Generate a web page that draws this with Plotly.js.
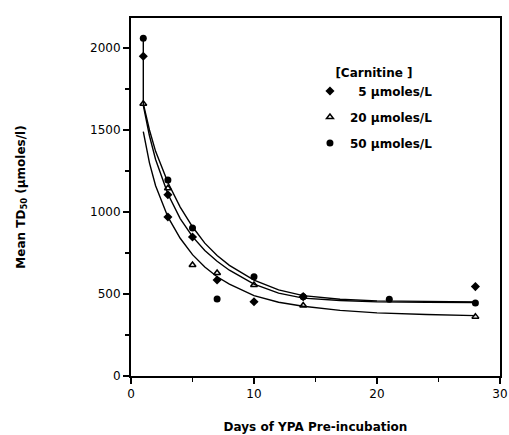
<!DOCTYPE html>
<html>
<head>
<meta charset="utf-8">
<script src="https://cdn.plot.ly/plotly-3.0.1.min.js"></script>
<style>html,body{margin:0;padding:0;background:#fff;}#chart{width:509px;height:435px;}</style>
</head>
<body>
<div id="chart"></div>
<script>
// Measured points
const daysDiamond = [1, 3, 3, 5, 7, 10, 14, 28];
const td50Diamond = [1950, 1105, 970, 848, 585, 453, 484, 545];
const daysTriangle = [1, 3, 5, 7, 10, 14, 28];
const td50Triangle = [1660, 1145, 677, 628, 555, 430, 362];
const daysCircle = [1, 3, 5, 7, 10, 14, 21, 28];
const td50Circle = [2060, 1195, 902, 470, 605, 484, 468, 445];

// Fitted curves
const curveTopDays = [1, 1, 1.5, 2, 3, 4, 5, 6, 7, 8, 10, 12, 14, 17, 20, 24, 28];
const curveTopVals = [2060, 1660, 1500, 1370, 1180, 1030, 910, 810, 735, 675, 585, 525, 490, 468, 458, 454, 452];
const curveMidDays = [1, 1.5, 2, 3, 4, 5, 6, 7, 8, 10, 12, 14, 17, 20, 24, 28];
const curveMidVals = [1650, 1465, 1320, 1110, 960, 850, 765, 700, 645, 560, 505, 475, 460, 452, 450, 448];
const curveLowDays = [1, 1.5, 2, 3, 4, 5, 6, 7, 8, 10, 12, 14, 17, 20, 24, 28];
const curveLowVals = [1490, 1300, 1160, 970, 840, 740, 665, 605, 560, 490, 450, 425, 400, 385, 375, 368];

const legendNames = ['  5 µmoles/L', '20 µmoles/L', '50 µmoles/L'];

const lineStyle = {color: '#000', width: 1.4};
const traces = [
  {x: curveTopDays, y: curveTopVals, mode: 'lines', line: lineStyle, showlegend: false, hoverinfo: 'skip'},
  {x: curveMidDays, y: curveMidVals, mode: 'lines', line: lineStyle, showlegend: false, hoverinfo: 'skip'},
  {x: curveLowDays, y: curveLowVals, mode: 'lines', line: lineStyle, showlegend: false, hoverinfo: 'skip'},
  {x: daysDiamond, y: td50Diamond, mode: 'markers', name: legendNames[0], legendgroup: 'a',
   marker: {symbol: 'diamond', size: 7, color: '#000'}},
  {x: daysTriangle, y: td50Triangle, mode: 'markers', name: legendNames[1], legendgroup: 'b',
   marker: {symbol: 'triangle-up-open', size: 6, color: '#000', line: {width: 1.5, color: '#000'}}},
  {x: daysCircle, y: td50Circle, mode: 'markers', name: legendNames[2], legendgroup: 'c',
   marker: {symbol: 'circle', size: 7, color: '#000'}}
];

const fontFam = '"DejaVu Sans", Arial, sans-serif';
const layout = {
  width: 509, height: 435,
  margin: {l: 131, r: 9, t: 18, b: 59},
  paper_bgcolor: '#fff', plot_bgcolor: '#fff',
  showlegend: true,
  legend: {
    x: 0.485, y: 0.88, xanchor: 'left', yanchor: 'top',
    bgcolor: 'rgba(0,0,0,0)',
    font: {family: fontFam, size: 12, color: '#000', weight: 'bold'},
    title: {text: '[Carnitine ]', side: 'top center', font: {family: fontFam, size: 12, color: '#000', weight: 'bold'}},
    itemwidth: 30, tracegroupgap: 7
  },
  xaxis: {
    range: [0, 30], tickvals: [0, 10, 20, 30], ticktext: ['0', '10', '20', '30'],
    ticks: 'outside', ticklen: 6, tickwidth: 1.5, tickcolor: '#000',
    minor: {tickvals: [5, 15, 25], ticks: 'outside', ticklen: 4, tickcolor: '#000', tickwidth: 1.5},
    showline: true, linecolor: '#000', linewidth: 2, mirror: true,
    showgrid: false, zeroline: false,
    tickfont: {family: fontFam, size: 12, color: '#000'},
    title: {text: 'Days of YPA Pre-incubation', font: {family: fontFam, size: 12, color: '#000', weight: 'bold'}, standoff: 22}
  },
  yaxis: {
    range: [0, 2183], tickvals: [0, 500, 1000, 1500, 2000],
    ticks: 'outside', ticklen: 6, tickwidth: 1.5, tickcolor: '#000',
    minor: {tickvals: [250, 750, 1250, 1750], ticks: 'outside', ticklen: 4, tickcolor: '#000', tickwidth: 1.5},
    showline: true, linecolor: '#000', linewidth: 2, mirror: true,
    showgrid: false, zeroline: false,
    tickfont: {family: fontFam, size: 12, color: '#000'},
    title: {text: 'Mean TD<sub>50</sub> (µmoles/l)', font: {family: fontFam, size: 12, color: '#000', weight: 'bold'}, standoff: 62}
  }
};

Plotly.newPlot('chart', traces, layout, {displayModeBar: false, staticPlot: true});
</script>
</body>
</html>
